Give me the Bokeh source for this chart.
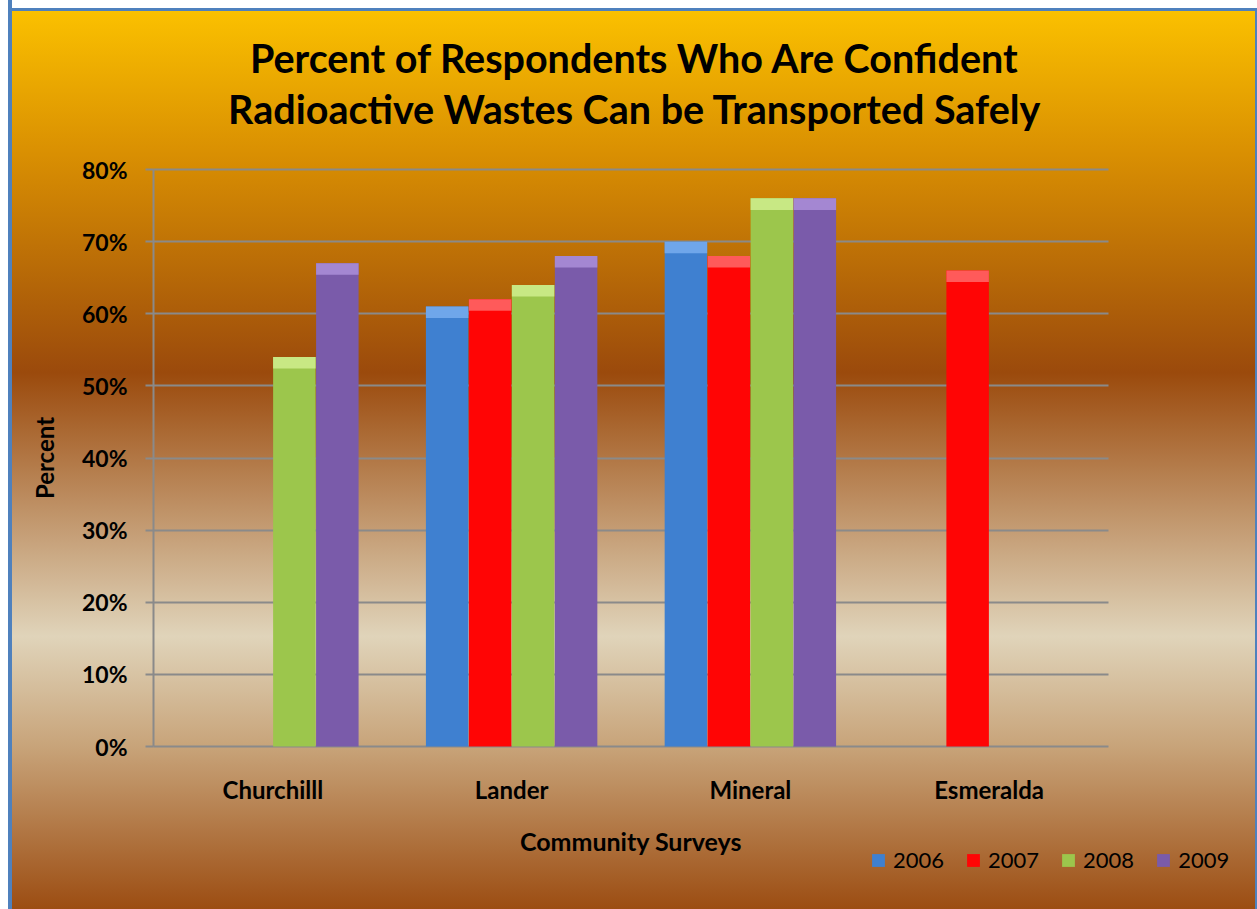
from bokeh.plotting import figure
from bokeh.models import (ColumnDataSource, Range1d, FactorRange, FixedTicker,
                          PrintfTickFormatter, Label, Legend, LegendItem)
from bokeh.transform import dodge
from bokeh.embed import file_html
from bokeh.resources import INLINE

# ---- data ----
communities = ["Churchilll", "Lander", "Mineral", "Esmeralda"]
years = ["2006", "2007", "2008", "2009"]
v2006 = [None, 61, 70, None]
v2007 = [None, 62, 68, 66]
v2008 = [54, 64, 76, None]
v2009 = [67, 68, 76, None]
y_ticks = [0, 10, 20, 30, 40, 50, 60, 70, 80]
title_lines = ["Percent of Respondents Who Are Confident",
               "Radioactive Wastes Can be Transported Safely"]

series = [v2006, v2007, v2008, v2009]
colors = ["#3F80D0", "#FF0505", "#9CC64C", "#7A5BAA"]
caps = ["#6FA6EA", "#FF5A5A", "#C8E884", "#A487D2"]
offsets = [-0.27, -0.09, 0.09, 0.27]
BAR_W = 0.178
FONT = "Lato"

# layout geometry (pixels)
W, H = 1257, 909
PLOT_L, PLOT_R, PLOT_T, PLOT_B = 153, 1108, 169, 746
YMAX = 80
ppu_x = (PLOT_R - PLOT_L) / len(communities)
ppu_y = (PLOT_B - PLOT_T) / YMAX
right_gap = W - PLOT_R
pad_x = right_gap / ppu_x

x_range = FactorRange(*communities, range_padding=pad_x, range_padding_units="absolute")
y_range = Range1d(-(H - PLOT_B) / ppu_y, YMAX + PLOT_T / ppu_y)

p = figure(width=W, height=H, output_backend="svg", toolbar_location=None,
           x_range=x_range, y_range=y_range,
           min_border_left=PLOT_L - right_gap,
           min_border_right=0, min_border_top=0, min_border_bottom=0)
p.background_fill_color = None
p.border_fill_color = None
p.outline_line_color = None
p.styles = {
    "background": (
        "linear-gradient(to right, #FFFFFF 0px, #FFFFFF 8px, #4F81BD 8px, #4F81BD 12px, transparent 12px),"
        "linear-gradient(to bottom, #FFFFFF 0px, #FFFFFF 8px, #4F81BD 8px, #4F81BD 11px, transparent 11px),"
        "linear-gradient(to left, #4F81BD 0px, #4F81BD 2px, transparent 2px),"
        "linear-gradient(to bottom, #FBC100 1%, #D98F02 17%, #9B4A0C 41%, "
        "#E0D4BA 70%, #C8A47A 82%, #9C4D12 100%)"
    )
}

renderers = []
for yr, vals, c, cap, off in zip(years, series, colors, caps, offsets):
    xs = [c_ for c_, v in zip(communities, vals) if v is not None]
    vs = [v for v in vals if v is not None]
    src = ColumnDataSource(dict(x=xs, top=vs, capb=[v - 1.6 for v in vs]))
    r = p.vbar(x=dodge("x", off, range=p.x_range), top="top", bottom=0, width=BAR_W,
               source=src, fill_color=c, line_color=None)
    p.vbar(x=dodge("x", off, range=p.x_range), top="top", bottom="capb", width=BAR_W,
           source=src, fill_color=cap, line_color=None)
    renderers.append((yr, r))

# grid
p.xgrid.grid_line_color = None
p.ygrid.ticker = FixedTicker(ticks=y_ticks)
p.ygrid.grid_line_color = "#8A8A8A"
p.ygrid.grid_line_width = 2
try:
    p.ygrid.cross_bounds = (0, len(communities))
except Exception:
    p.ygrid.grid_line_color = None
    p.segment(x0=0, x1=len(communities), y0=y_ticks, y1=y_ticks,
              line_color="#8A8A8A", line_width=2, level="underlay")

# axes
p.yaxis.ticker = FixedTicker(ticks=y_ticks)
p.yaxis.formatter = PrintfTickFormatter(format="%d%%")
p.yaxis.fixed_location = 0
p.yaxis.bounds = (0, YMAX)
p.xaxis.fixed_location = 0
for ax in (p.xaxis[0], p.yaxis[0]):
    ax.axis_line_color = "#8A8A8A"
    ax.axis_line_width = 2
    ax.major_tick_line_color = "#8A8A8A"
    ax.major_tick_line_width = 2
    ax.minor_tick_line_color = None
    ax.major_label_text_font = FONT
    ax.major_label_text_font_style = "bold"
    ax.major_label_text_color = "black"
    ax.axis_label_text_font = FONT
    ax.axis_label_text_font_style = "bold"
    ax.axis_label_text_color = "black"
p.xaxis.axis_line_color = None
p.yaxis.major_label_text_font_size = "23px"
p.yaxis.axis_label_text_font_size = "24px"
p.xaxis.major_label_text_font_size = "24px"
p.xaxis.axis_label_text_font_size = "25px"
p.yaxis.major_tick_in = 0
p.yaxis.major_tick_out = 8
p.yaxis.major_label_standoff = 18
p.yaxis.axis_label = "Percent"
p.yaxis.axis_label_standoff = 20
p.xaxis.major_tick_in = 0
p.xaxis.major_tick_out = 0
p.xaxis.major_label_standoff = 28
p.xaxis.axis_label = "Community Surveys"
p.xaxis.axis_label_standoff = 19

# title lines
for txt, cy in zip(title_lines, [57, 108]):
    p.add_layout(Label(x=len(communities) / 2, y=YMAX + (PLOT_T - cy) / ppu_y, text=txt,
                       text_align="center", text_baseline="middle",
                       text_font=FONT, text_font_style="bold", text_font_size="39.5px",
                       text_color="black", x_offset=4))

legend = Legend(items=[LegendItem(label=yr, renderers=[r]) for yr, r in renderers],
                orientation="horizontal", location=(866, 36),
                background_fill_alpha=0, border_line_color=None,
                glyph_width=16, glyph_height=16, label_standoff=7, spacing=21,
                label_text_font=FONT, label_text_font_size="22px",
                label_text_color="black", padding=0, margin=0)
p.add_layout(legend)

open("out.html", "w").write(file_html(p, INLINE))
